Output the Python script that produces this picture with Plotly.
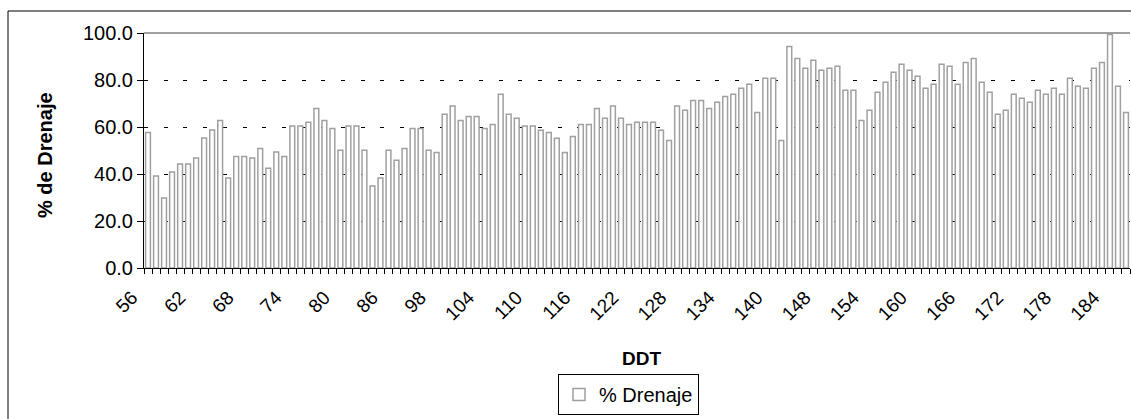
import plotly.graph_objects as go

# DDT categories (labels shown every 6th category)
ddt = (list(range(56, 87)) + [88, 90, 92, 94, 96] + list(range(98, 141))
       + [141, 142, 143, 144, 146] + list(range(148, 187)))
ddt_labels = [str(d) for d in ddt]

drenaje = [
    57.7, 39.1, 29.8, 40.9, 44.3, 44.3, 46.8, 55.3, 58.7, 62.8,
    38.3, 47.5, 47.5, 46.8, 50.9, 42.4, 49.4, 47.5, 60.4, 60.4,
    62.0, 67.9, 62.8, 59.4, 50.1, 60.4, 60.4, 50.1, 34.9, 38.3,
    50.1, 45.8, 50.9, 59.4, 59.4, 50.1, 49.2, 65.4, 68.9, 62.8,
    64.5, 64.5, 59.4, 61.1, 73.9, 65.4, 63.7, 60.4, 60.4, 58.6,
    57.7, 55.2, 49.2, 56.0, 61.1, 61.1, 67.9, 63.7, 68.9, 63.7,
    61.1, 62.0, 62.0, 62.0, 58.6, 54.3, 68.9, 67.1, 71.3, 71.3,
    67.9, 70.5, 73.0, 73.9, 76.5, 78.2, 66.2, 80.7, 80.7, 54.3,
    94.3, 89.2, 85.0, 88.4, 84.1, 85.0, 85.8, 75.6, 75.6, 62.8,
    67.1, 74.8, 79.0, 83.3, 86.7, 84.1, 81.6, 76.5, 78.2, 86.7,
    85.8, 78.2, 87.5, 89.2, 79.0, 74.8, 65.4, 67.1, 73.9, 72.2,
    70.5, 75.6, 73.9, 76.5, 73.9, 80.7, 77.3, 76.5, 85.0, 87.5,
    99.4, 77.3, 66.2,
]

label_every = 6
tick_text = [lab if i % label_every == 0 else "" for i, lab in enumerate(ddt_labels)]
y_ticks = [0, 20, 40, 60, 80, 100]

FONT = "Liberation Sans, Arial, sans-serif"

fig = go.Figure(
    go.Bar(
        x=ddt_labels,
        y=drenaje,
        name="% Drenaje",
        marker=dict(color="white", line=dict(color="#a0a0a0", width=1.5)),
    )
)

W, H = 1131, 419
L, T = 144, 33
PR, PB = 1130, 268   # plot right / bottom
R, B = W - PR, H - PB
pw, ph = PR - L, PB - T

def px(x):
    return (x - L) / pw

def py(y):
    return (PB - y) / ph

fig.update_layout(
    width=W, height=H,
    margin=dict(l=L, r=R, t=T, b=B, pad=0, autoexpand=False),
    paper_bgcolor="white", plot_bgcolor="white",
    font=dict(family=FONT, size=19, color="black"),
    bargap=0.4,
    showlegend=True,
    legend=dict(
        x=px(558), y=py(374), xanchor="left", yanchor="top",
        bordercolor="black", borderwidth=1, bgcolor="white",
        font=dict(size=20),
    ),
    xaxis=dict(
        type="category",
        tickmode="array", tickvals=ddt_labels, ticktext=tick_text,
        tickson="boundaries",
        ticks="outside", ticklen=5, tickcolor="black", tickwidth=1,
        tickangle=-45, ticklabelshift=-16, ticklabelstandoff=10,
        showline=True, linecolor="black", linewidth=1,
        showgrid=False, automargin=False,
        tickfont=dict(size=19),
        range=[-0.5, len(ddt_labels) - 0.5],
    ),
    yaxis=dict(
        range=[0, 100],
        tickmode="array", tickvals=y_ticks,
        tickformat=".1f",
        ticks="outside", ticklen=6, tickcolor="black", tickwidth=1,
        showline=True, linecolor="black", linewidth=1,
        showgrid=True, gridcolor="black", gridwidth=1, griddash="4px,15.7px",
        tickfont=dict(size=20), automargin=False,
        zeroline=False,
    ),
    shapes=[
        dict(type="line", xref="paper", yref="paper", x0=0, x1=1, y0=1, y1=1,
             line=dict(color="#808080", width=1.5), layer="above"),
        dict(type="rect", xref="paper", yref="paper",
             x0=px(8), x1=px(1145), y0=py(11), y1=py(440),
             line=dict(color="black", width=1), layer="below"),
    ],
    annotations=[
        dict(text="<b>% de Drenaje</b>", xref="paper", yref="paper",
             x=px(45), y=py(155), textangle=-90, showarrow=False,
             font=dict(size=20), xanchor="center", yanchor="middle"),
        dict(text="<b>DDT</b>", xref="paper", yref="paper",
             x=px(641), y=py(358), showarrow=False,
             font=dict(size=19), xanchor="center", yanchor="middle"),
    ],
)

# remove the browser's default 8px body margin so the figure fills the window
fig.write_html(
    "out.html",
    config={"displayModeBar": False},
    post_script="document.body.style.margin='0';document.body.style.overflow='hidden';",
)
